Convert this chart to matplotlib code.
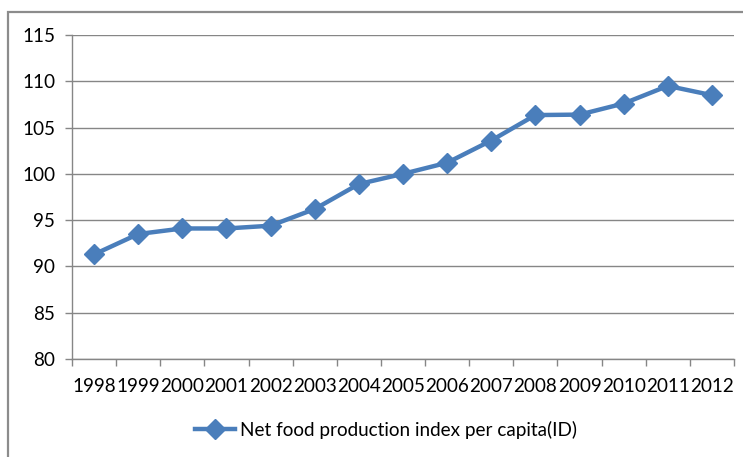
import matplotlib
matplotlib.use("Agg")
import matplotlib.pyplot as plt
from matplotlib.patches import Rectangle

plt.rcParams['font.family'] = ['Lato', 'DejaVu Sans']

years = ['1998', '1999', '2000', '2001', '2002', '2003', '2004', '2005',
         '2006', '2007', '2008', '2009', '2010', '2011', '2012']
index_values = [91.3, 93.5, 94.1, 94.1, 94.4, 96.2, 98.9, 100.0,
                101.2, 103.6, 106.35, 106.4, 107.6, 109.5, 108.5]
series_name = 'Net food production index per capita(ID)'

blue = '#4a7ebb'
grey = '#868686'
fs = 13.6

fig = plt.figure(figsize=(7.43, 4.57), dpi=100)

# Rahmen um das ganze Diagramm (geht rechts und unten aus dem Bild)
fig.patches.append(Rectangle((8 / 743, -0.05), 1.0, 1 - 12 / 457 + 0.05,
                             transform=fig.transFigure, fill=False,
                             edgecolor='#8c8c8c', linewidth=1.6))

ax = fig.add_axes([72 / 743, 1 - 359 / 457, 662 / 743, 324 / 457])
x = list(range(len(years)))
ax.plot(x, index_values, color=blue, linewidth=3.2, marker='D',
        markersize=10, label=series_name, zorder=3)

ax.set_xlim(-0.5, len(years) - 0.5)
ax.set_ylim(80, 115)
ax.set_yticks(range(80, 116, 5))
ax.set_xticks(x)
ax.set_xticklabels(years)
ax.set_xticks([i - 0.5 for i in range(len(years) + 1)], minor=True)
ax.tick_params(axis='x', which='major', length=0, pad=14, labelsize=fs,
               colors='black')
ax.tick_params(axis='x', which='minor', length=5, color=grey, width=1)
ax.tick_params(axis='y', length=5, color=grey, width=1, labelsize=fs,
               pad=7)

ax.grid(axis='y', color=grey, linewidth=1)
ax.set_axisbelow(True)
for s in ['top', 'right']:
    ax.spines[s].set_visible(False)
for s in ['left', 'bottom']:
    ax.spines[s].set_color(grey)
    ax.spines[s].set_linewidth(1)

fig.legend(loc='center', bbox_to_anchor=(386 / 743, 1 - 430 / 457),
           frameon=False, fontsize=fs, handlelength=2.1,
           handletextpad=0.3)

fig.savefig('out.png', dpi=100)
